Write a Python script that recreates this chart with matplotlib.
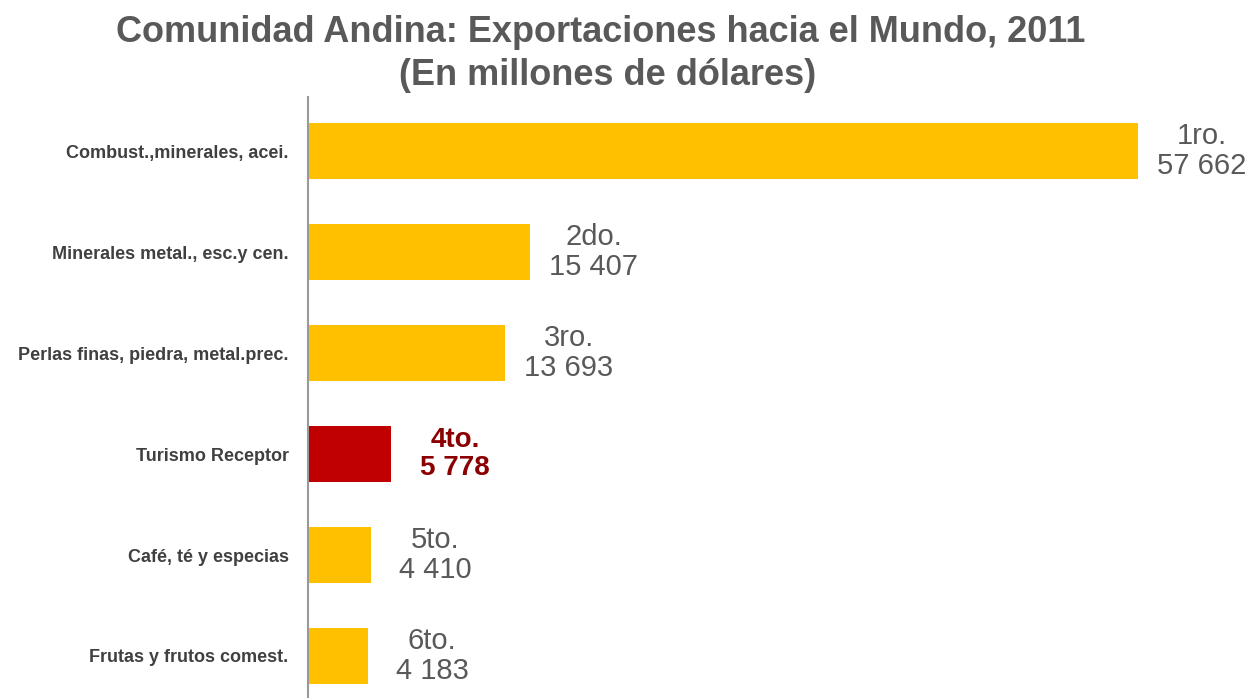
import matplotlib.pyplot as plt

categories = [
    "Combust.,minerales, acei.",
    "Minerales metal., esc.y cen.",
    "Perlas finas, piedra, metal.prec.",
    "Turismo Receptor",
    "Café, té y especias",
    "Frutas y frutos comest.",
]
values = [57662, 15407, 13693, 5778, 4410, 4183]
ranks = ["1ro.", "2do.", "3ro.", "4to.", "5to.", "6to."]
value_labels = ["57 662", "15 407", "13 693", "5 778", "4 410", "4 183"]
highlight = "Turismo Receptor"

plt.rcParams['font.family'] = ['Liberation Sans', 'DejaVu Sans']

fig = plt.figure(figsize=(12.47, 6.98), dpi=100)
ax = fig.add_axes([0.247, 0.0, 0.753, 0.861])

ypos = list(range(len(categories)))
colors = ["#C00000" if c == highlight else "#FFC000" for c in categories]
ax.barh(ypos, values, height=0.55, color=colors)

ax.set_xlim(0, 65234)
ax.set_ylim(5.416, -0.535)

for y, v, r, lab, c in zip(ypos, values, ranks, value_labels, categories):
    hl = c == highlight
    ax.annotate(r + "\n" + lab, xy=(v, y), xytext=(46, 0), textcoords="offset points",
                ha="center", va="center", multialignment="center",
                fontsize=21 if not hl else 20, linespacing=1.12,
                color="#8B0000" if hl else "#595959",
                fontweight="bold" if hl else "normal")

ax.set_yticks(ypos)
ax.set_yticklabels(categories, fontsize=13, fontweight="bold", color="#404040")
ax.tick_params(axis="y", length=0, pad=14)
ax.set_xticks([])
for s in ["top", "right", "bottom"]:
    ax.spines[s].set_visible(False)
ax.spines["left"].set_color("#999999")
ax.spines["left"].set_linewidth(1.5)

fig.text(0.482, 0.94, "Comunidad Andina: Exportaciones hacia el Mundo, 2011",
         ha="center", va="baseline", fontsize=26, fontweight="bold", color="#595959")
fig.text(0.487, 0.878, "(En millones de dólares)",
         ha="center", va="baseline", fontsize=26, fontweight="bold", color="#595959")

fig.savefig("out.png", dpi=100)
